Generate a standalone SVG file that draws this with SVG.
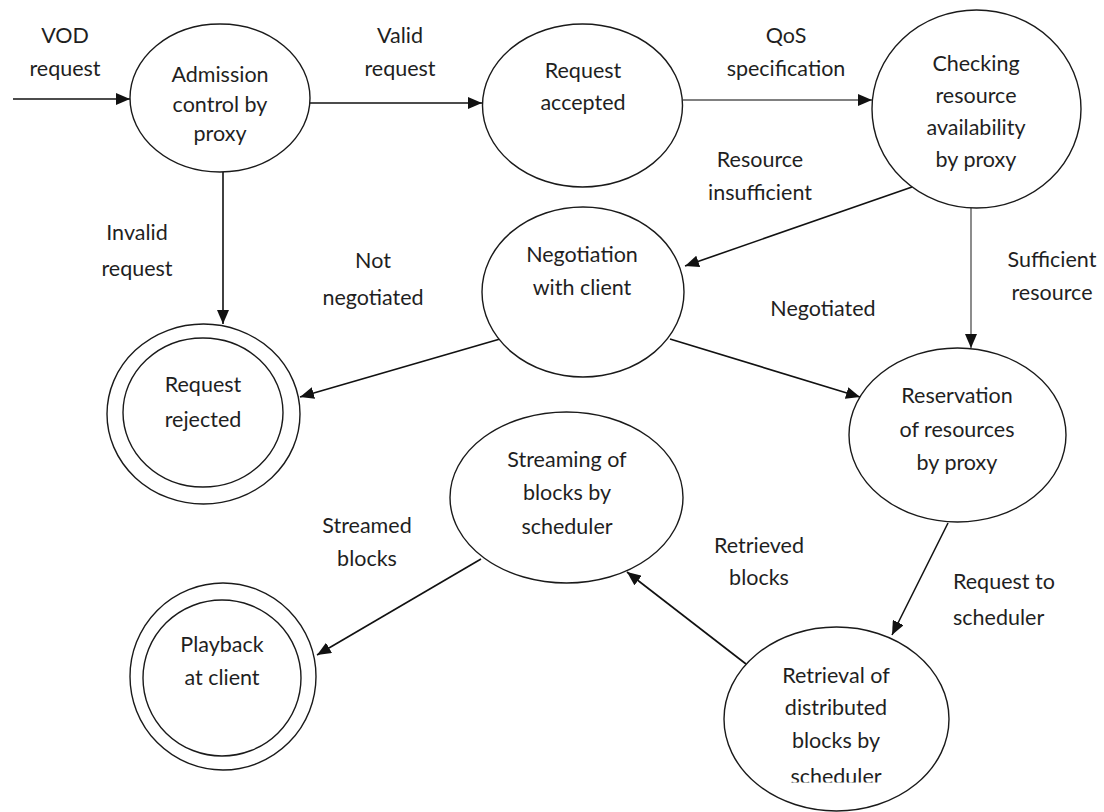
<svg xmlns="http://www.w3.org/2000/svg" width="1104" height="812" viewBox="0 0 1104 812">
  <style>
    .node { fill: #ffffff; stroke: #1a1a1a; stroke-width: 1.4; }
    .t { font-family: Lato, "Liberation Sans", sans-serif; font-size: 21.5px; fill: #1f1f1f; text-anchor: middle; }
    .tl { text-anchor: start; }
    .edge { fill: none; stroke: #111111; stroke-width: 1.6; marker-end: url(#arrow); }
    .gray { stroke: #808080; stroke-width: 1.8; }
  </style>
  <defs>
    <marker id="arrow" markerUnits="userSpaceOnUse" markerWidth="14" markerHeight="12" viewBox="0 0 14 12" refX="14" refY="6" orient="auto">
      <path d="M0,0 L14,6 L0,12 z" fill="#111111"/>
    </marker>
    <clipPath id="clipRetrieval">
      <rect x="700" y="600" width="280" height="182.5"/>
    </clipPath>
  </defs>

  <rect x="0" y="0" width="1104" height="812" fill="#ffffff"/>

  <g id="connectors">
    <line class="edge" x1="13" y1="99" x2="130" y2="99"/>
    <line class="edge" x1="310" y1="103" x2="482" y2="103"/>
    <line class="edge gray" x1="683" y1="100" x2="872" y2="100"/>
    <line class="edge" x1="223" y1="172" x2="223" y2="324"/>
    <line class="edge" x1="912" y1="187" x2="685" y2="266"/>
    <line class="edge gray" x1="971" y1="208" x2="971" y2="348"/>
    <line class="edge" x1="500" y1="339" x2="300" y2="397"/>
    <line class="edge" x1="670" y1="339" x2="860" y2="397"/>
    <line class="edge" x1="948" y1="523" x2="892" y2="635"/>
    <line class="edge" x1="746" y1="664" x2="627" y2="572"/>
    <line class="edge" x1="481" y1="559" x2="317" y2="655"/>
  </g>

  <g id="labels">
    <text class="t" x="65" y="43">VOD</text>
    <text class="t" x="65" y="76">request</text>
    <text class="t" x="400" y="43">Valid</text>
    <text class="t" x="400" y="76">request</text>
    <text class="t" x="786" y="43">QoS</text>
    <text class="t" x="786" y="76">specification</text>
    <text class="t" x="760" y="167">Resource</text>
    <text class="t" x="760" y="200">insufficient</text>
    <text class="t" x="137" y="240">Invalid</text>
    <text class="t" x="137" y="276">request</text>
    <text class="t" x="373" y="268">Not</text>
    <text class="t" x="373" y="305">negotiated</text>
    <text class="t" x="823" y="316">Negotiated</text>
    <text class="t" x="1052" y="267">Sufficient</text>
    <text class="t" x="1052" y="300">resource</text>
    <text class="t" x="367" y="533">Streamed</text>
    <text class="t" x="367" y="566">blocks</text>
    <text class="t" x="759" y="553">Retrieved</text>
    <text class="t" x="759" y="585">blocks</text>
    <text class="t tl" x="953" y="589">Request to</text>
    <text class="t tl" x="953" y="625">scheduler</text>
  </g>

  <g id="admission">
    <ellipse class="node" cx="220" cy="98" rx="90" ry="74"/>
    <text class="t" x="220" y="82">Admission</text>
    <text class="t" x="220" y="112">control by</text>
    <text class="t" x="220" y="141">proxy</text>
  </g>

  <g id="accepted">
    <ellipse class="node" cx="582.5" cy="105.5" rx="100" ry="81.5"/>
    <text class="t" x="583" y="78">Request</text>
    <text class="t" x="583" y="110">accepted</text>
  </g>

  <g id="checking">
    <ellipse class="node" cx="976.5" cy="109" rx="104.5" ry="99"/>
    <text class="t" x="976" y="71">Checking</text>
    <text class="t" x="976" y="103">resource</text>
    <text class="t" x="976" y="135">availability</text>
    <text class="t" x="976" y="167">by proxy</text>
  </g>

  <g id="negotiation">
    <ellipse class="node" cx="583" cy="292" rx="101" ry="85"/>
    <text class="t" x="582" y="262">Negotiation</text>
    <text class="t" x="582" y="295">with client</text>
  </g>

  <g id="rejected">
    <ellipse class="node" cx="203.5" cy="414" rx="96.5" ry="90"/>
    <ellipse class="node" cx="203" cy="412.5" rx="80" ry="74.5"/>
    <text class="t" x="203" y="392">Request</text>
    <text class="t" x="203" y="427">rejected</text>
  </g>

  <g id="reservation">
    <ellipse class="node" cx="957.5" cy="435" rx="108.5" ry="87"/>
    <text class="t" x="957" y="403">Reservation</text>
    <text class="t" x="957" y="437">of resources</text>
    <text class="t" x="957" y="470">by proxy</text>
  </g>

  <g id="streaming">
    <ellipse class="node" cx="566.5" cy="497.5" rx="116.5" ry="85.5"/>
    <text class="t" x="567" y="467">Streaming of</text>
    <text class="t" x="567" y="500">blocks by</text>
    <text class="t" x="567" y="534">scheduler</text>
  </g>

  <g id="playback">
    <ellipse class="node" cx="223" cy="676.5" rx="93" ry="93.5"/>
    <ellipse class="node" cx="222" cy="678" rx="79" ry="78"/>
    <text class="t" x="222" y="652">Playback</text>
    <text class="t" x="222" y="685">at client</text>
  </g>

  <g id="retrieval">
    <ellipse class="node" cx="836.5" cy="719" rx="112.5" ry="92"/>
    <text class="t" x="836" y="683">Retrieval of</text>
    <text class="t" x="836" y="715">distributed</text>
    <text class="t" x="836" y="748">blocks by</text>
    <text class="t" x="836" y="784" clip-path="url(#clipRetrieval)">scheduler</text>
  </g>
</svg>
